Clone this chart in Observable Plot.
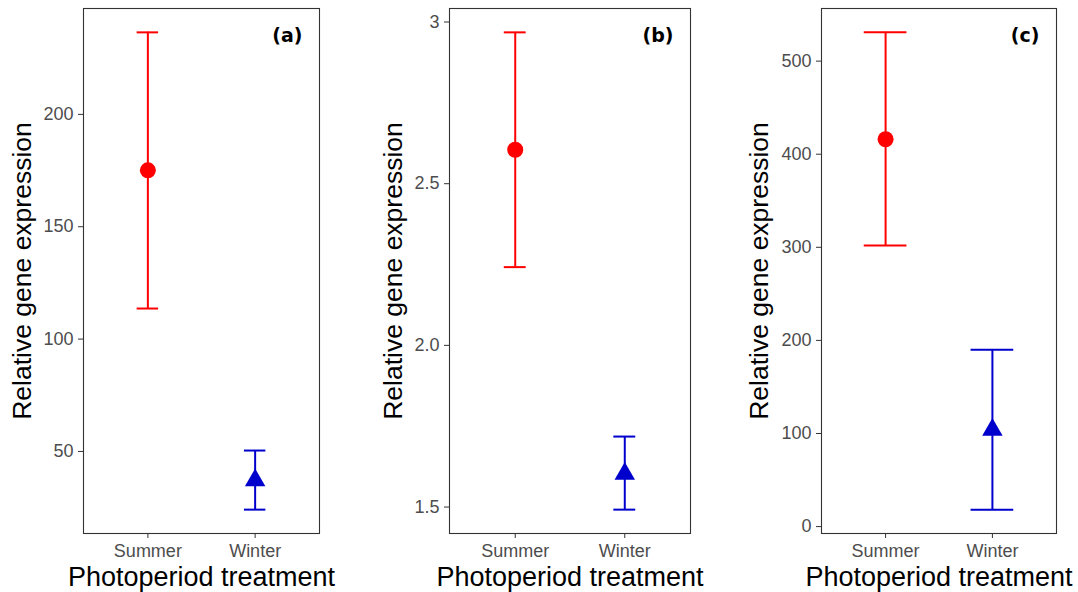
<!DOCTYPE html>
<html><head><meta charset="utf-8">
<script src="https://cdn.jsdelivr.net/npm/d3@7"></script>
<script src="https://cdn.jsdelivr.net/npm/@observablehq/plot@0.6"></script>
<style>
body{margin:0;background:#fff;}
#row{display:flex;width:1078px;height:592px;}
#row svg{display:block;flex:none;background:#fff;}
</style></head><body><div id="row"></div>
<script>
const categories = ["Summer", "Winter"];
const seriesColors = ["#FF0000", "#0000CD"];
const panelLabels = ["(a)", "(b)", "(c)"];
const xTitle = "Photoperiod treatment";
const yTitle = "Relative gene expression";

const meanA = [175.1, 37.1], lowA = [113.6, 24.1], highA = [236.5, 50.4];
const meanB = [2.605, 1.603], lowB = [2.242, 1.492], highB = [2.968, 1.718];
const meanC = [416.1, 104.0], lowC = [301.9, 18.2], highC = [530.9, 190.0];

const ticksA = [50, 100, 150, 200], tickLabelsA = ["50", "100", "150", "200"];
const ticksB = [1.5, 2.0, 2.5, 3.0], tickLabelsB = ["1.5", "2.0", "2.5", "3"];
const ticksC = [0, 100, 200, 300, 400, 500], tickLabelsC = ["0", "100", "200", "300", "400", "500"];

const panels = [
  {label: panelLabels[0], mean: meanA, low: lowA, high: highA, ticks: ticksA, tickLabels: tickLabelsA, cap: 0.1, width: 360, ml: 83, mr: 41, titleOffset: 71},
  {label: panelLabels[1], mean: meanB, low: lowB, high: highB, ticks: ticksB, tickLabels: tickLabelsB, cap: 0.1, width: 360, ml: 89, mr: 30, titleOffset: 66},
  {label: panelLabels[2], mean: meanC, low: lowC, high: highC, ticks: ticksC, tickLabels: tickLabelsC, cap: 0.2, width: 358, ml: 101, mr: 22, titleOffset: 72}
];

const row = document.getElementById("row");
for (const p of panels) {
  const data = categories.map((c, i) => ({
    cat: c, pos: i + 1, mean: p.mean[i], low: p.low[i], high: p.high[i], color: seriesColors[i]
  }));
  const lo = d3.min(p.low), hi = d3.max(p.high), ex = (hi - lo) * 0.05;
  const chart = Plot.plot({
    width: p.width,
    height: 592,
    marginLeft: p.ml,
    marginRight: p.mr,
    marginTop: 8,
    marginBottom: 59,
    style: {fontFamily: "'Liberation Sans', Arial, sans-serif", background: "#fff"},
    x: {domain: [0.4, 2.6], axis: null},
    y: {domain: [lo - ex, hi + ex], axis: null},
    color: {type: "identity"},
    marks: [
      Plot.frame({stroke: "#333", strokeWidth: 1.1}),
      Plot.axisY({ticks: p.ticks, tickFormat: (d, i) => p.tickLabels[i], tickSize: 5, tickPadding: 5,
        fontSize: 18, stroke: "#333", fill: "#4d4d4d", label: null}),
      Plot.axisX({ticks: [1, 2], tickFormat: d => categories[d - 1], tickSize: 5, tickPadding: 6,
        fontSize: 18, stroke: "#333", fill: "#4d4d4d", label: null}),
      Plot.text([yTitle], {frameAnchor: "left", rotate: -90, dx: -p.titleOffset, textAnchor: "middle", lineAnchor: "top",
        fontSize: 26.5, fill: "#000"}),
      Plot.text([xTitle], {frameAnchor: "bottom", dy: 52, textAnchor: "middle", lineAnchor: "bottom", fontSize: 27, fill: "#000"}),
      Plot.text([p.label], {frameAnchor: "top-right", dx: -17, dy: 27.5, textAnchor: "end", lineAnchor: "middle",
        fontSize: 19, fontWeight: "bold", fontFamily: "'DejaVu Sans', sans-serif", fill: "#000"}),
      Plot.ruleX(data, {x: "pos", y1: "low", y2: "high", stroke: "color", strokeWidth: 2}),
      Plot.ruleY(data, {y: "low", x1: d => d.pos - p.cap, x2: d => d.pos + p.cap, stroke: "color", strokeWidth: 2}),
      Plot.ruleY(data, {y: "high", x1: d => d.pos - p.cap, x2: d => d.pos + p.cap, stroke: "color", strokeWidth: 2}),
      Plot.dot(data.filter(d => d.cat === categories[0]), {x: "pos", y: "mean", r: 8, fill: "color", symbol: "circle"}),
      Plot.dot(data.filter(d => d.cat === categories[1]), {x: "pos", y: "mean", r: 7.6, fill: "color", symbol: "triangle"})
    ]
  });
  row.appendChild(chart);
}
</script></body></html>
